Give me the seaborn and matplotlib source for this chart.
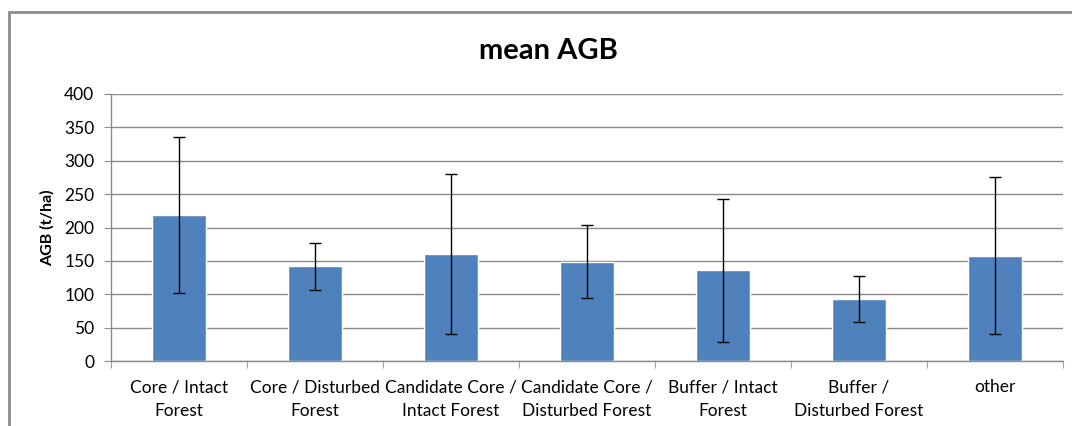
import pandas as pd
import seaborn as sns
import matplotlib.pyplot as plt
from matplotlib.lines import Line2D

categories = ["Core / Intact\nForest", "Core / Disturbed\nForest", "Candidate Core /\nIntact Forest",
              "Candidate Core /\nDisturbed Forest", "Buffer / Intact\nForest", "Buffer /\nDisturbed Forest",
              "other"]
mean_agb = [219, 142, 160, 149, 136, 93, 158]
sd_agb = [117, 35, 120, 55, 107, 34, 117]
yticks = [0, 50, 100, 150, 200, 250, 300, 350, 400]


def main():
    df = pd.DataFrame({'category': categories, 'agb': mean_agb, 'sd': sd_agb})

    sns.set_style('white')
    plt.rcParams['font.family'] = ['Lato', 'DejaVu Sans']
    plt.rcParams['text.color'] = 'black'
    plt.rcParams['xtick.color'] = 'black'
    plt.rcParams['ytick.color'] = 'black'
    plt.rcParams['axes.labelcolor'] = 'black'

    W, H = 1072, 426
    fig = plt.figure(figsize=(W / 100, H / 100), dpi=100)
    ax = fig.add_axes([111 / W, 1 - 361 / H, (1063 - 111) / W, (361 - 94) / H])

    # chart frame like Excel (only top and left edges visible in the crop)
    frame_kw = dict(transform=fig.transFigure, color='#8c8c8c', linewidth=2)
    fig.lines.append(Line2D([9 / W, 1], [1 - 12 / H, 1 - 12 / H], **frame_kw))
    fig.lines.append(Line2D([9 / W, 9 / W], [0, 1 - 12 / H], **frame_kw))

    sns.barplot(data=df, x='category', y='agb', color='#4F81BD', saturation=1,
                width=0.4, ax=ax, errorbar=None)
    ax.errorbar(range(len(df)), df['agb'], yerr=df['sd'], fmt='none', ecolor='black',
                elinewidth=1, capsize=4, capthick=1)

    ax.set_ylim(0, 400)
    ax.set_xlim(-0.5, len(df) - 0.5)
    ax.set_yticks(yticks)
    ax.yaxis.grid(True, color='#8a8a8a', linewidth=1)
    ax.set_axisbelow(True)
    for s in ['top', 'right']:
        ax.spines[s].set_visible(False)
    for s in ['left', 'bottom']:
        ax.spines[s].set_color('#8a8a8a')
        ax.spines[s].set_linewidth(1)

    ax.set_xticks([i - 0.5 for i in range(len(df) + 1)], minor=True)
    ax.tick_params(axis='x', which='minor', length=5, color='#8a8a8a', direction='out', bottom=True)
    ax.tick_params(axis='x', which='major', length=0, labelsize=12.5, pad=13)
    for lbl in ax.get_xticklabels():
        lbl.set_linespacing(1.6)
    ax.tick_params(axis='y', length=5, color='#8a8a8a', direction='out', left=True, labelsize=12.5, pad=7)

    ax.set_xlabel('')
    ax.set_ylabel('AGB (t/ha)', fontsize=11.5, fontweight='bold', labelpad=7)
    fig.text(548 / W, 1 - 51 / H, 'mean AGB', ha='center', va='center', fontsize=21, fontweight='bold')

    fig.savefig('out.png', dpi=100)


if __name__ == '__main__':
    main()
